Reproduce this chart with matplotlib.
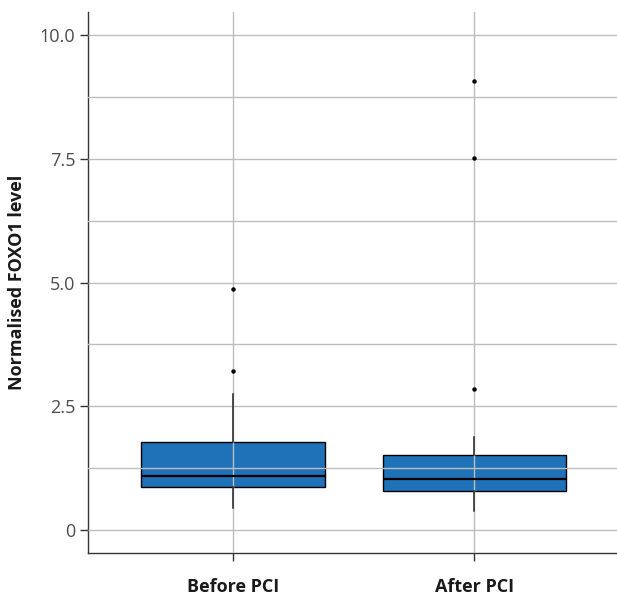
import matplotlib.pyplot as plt
from matplotlib.ticker import MultipleLocator

groups = ["Before PCI", "After PCI"]
q1 = [0.87, 0.79]
medians = [1.09, 1.03]
q3 = [1.78, 1.515]
whis_low = [0.44, 0.38]
whis_high = [2.75, 1.88]
outliers = [[3.22, 4.88], [2.85, 7.52, 9.06]]

plt.rcParams['font.family'] = ['Open Sans', 'DejaVu Sans']

stats = []
for i, g in enumerate(groups):
    stats.append({"label": g, "q1": q1[i], "med": medians[i], "q3": q3[i],
                  "whislo": whis_low[i], "whishi": whis_high[i], "fliers": outliers[i]})

fig = plt.figure(figsize=(6.17, 5.95), dpi=100)
ax = fig.add_axes([0.1426, 0.0706, 0.861, 0.909])

bp = ax.bxp(stats, positions=[1, 2], widths=0.76, patch_artist=True, showcaps=False,
            boxprops=dict(facecolor="#1F71B8", edgecolor="black", linewidth=1.0),
            medianprops=dict(color="black", linewidth=1.6),
            whiskerprops=dict(color="#222222", linewidth=1.1),
            flierprops=dict(marker="o", markersize=2.2, markerfacecolor="black",
                            markeredgecolor="black"))
# box fill sits under the grid, the rest sits on top
for b in bp["boxes"]:
    b.set_zorder(1)
for part in ["whiskers", "medians", "fliers"]:
    for a in bp[part]:
        a.set_zorder(4)

ax.set_xlim(0.4, 2.6)
ax.set_ylim(-0.46, 10.46)
ax.yaxis.set_minor_locator(MultipleLocator(1.25))
ax.set_yticks([0, 2.5, 5, 7.5, 10])
ax.set_yticklabels(["0", "2.5", "5.0", "7.5", "10.0"])
ax.set_xticks([1, 2])
ax.set_xticklabels(groups, fontweight="bold", fontsize=13, color="#1a1a1a")

ax.set_axisbelow(False)
ax.grid(True, which="major", color="#bdbdbd", linewidth=1.0)
ax.grid(True, which="minor", axis="y", color="#bdbdbd", linewidth=1.0)
for gl in ax.get_xgridlines() + ax.get_ygridlines() + ax.yaxis.get_minorticklines():
    gl.set_zorder(2)

ax.tick_params(axis="y", which="major", length=6, width=1, color="#333333",
               labelsize=13, labelcolor="#4d4d4d", pad=3)
ax.tick_params(axis="y", which="minor", length=0)
ax.tick_params(axis="x", length=6, width=1, color="#333333", pad=12)

for s in ["top", "right"]:
    ax.spines[s].set_visible(False)
for s in ["left", "bottom"]:
    ax.spines[s].set_color("#333333")
    ax.spines[s].set_linewidth(1.0)

ax.set_ylabel("Normalised FOXO1 level", fontweight="bold", fontsize=13,
              color="#1a1a1a", labelpad=10)

fig.savefig("out.png", dpi=100)
